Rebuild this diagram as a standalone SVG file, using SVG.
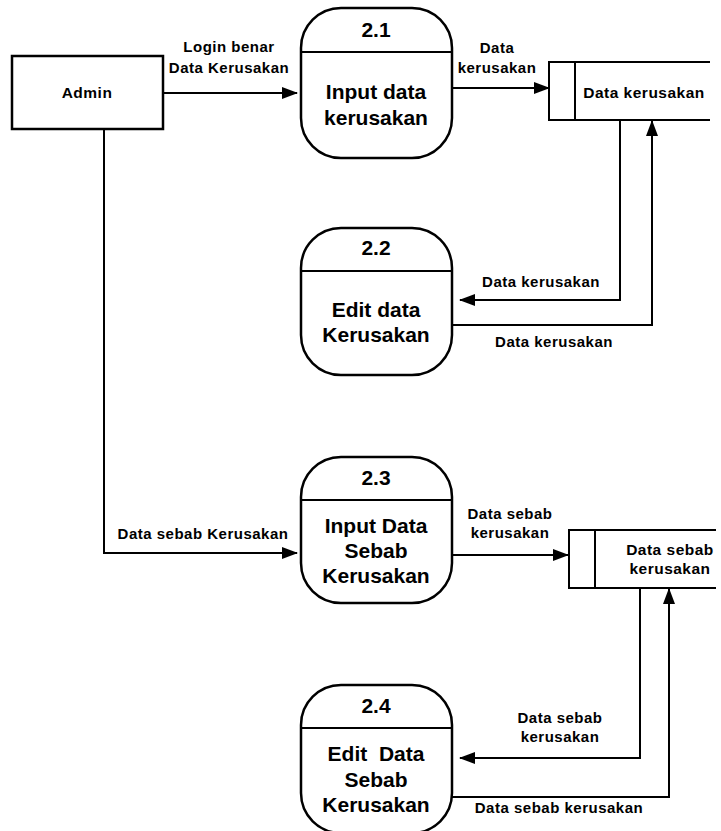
<svg xmlns="http://www.w3.org/2000/svg" width="721" height="831" viewBox="0 0 721 831">
<style>
.bg{fill:#ffffff}
.shape{fill:none;stroke:#000;stroke-width:2.5}
.line{fill:none;stroke:#000;stroke-width:2}
.flow{fill:none;stroke:#000;stroke-width:2;marker-end:url(#arr)}
text{font-family:"Liberation Sans",Arial,sans-serif;font-weight:bold;fill:#000;text-anchor:middle}
.lbl{font-size:15px;letter-spacing:0.5px}
.ptxt{font-size:21px}
.pnum{font-size:21px}
.ent{font-size:15.5px;letter-spacing:0.5px}
</style>
<defs>
<marker id="arr" markerUnits="userSpaceOnUse" markerWidth="16" markerHeight="12" refX="15" refY="6" orient="auto">
<path d="M0,0 L16,6 L0,12 Z" fill="#000"/>
</marker>
</defs>
<rect class="bg" x="0" y="0" width="721" height="831"/>

<g id="connectors">
<path class="flow" d="M163,93 H297"/>
<path class="flow" d="M452,88 H549"/>
<path class="flow" d="M620,120 V300 H460"/>
<path class="flow" d="M452,325 H652 V121"/>
<path class="flow" d="M104,129 V553 H297"/>
<path class="flow" d="M452,555 H568"/>
<path class="flow" d="M640,588 V758 H460"/>
<path class="flow" d="M452,797 H669 V589"/>
<text class="lbl" x="229" y="52">Login benar</text>
<text class="lbl" x="229" y="73">Data Kerusakan</text>
<text class="lbl" x="497" y="53">Data</text>
<text class="lbl" x="497" y="73">kerusakan</text>
<text class="lbl" x="541" y="287">Data kerusakan</text>
<text class="lbl" x="554" y="347">Data kerusakan</text>
<text class="lbl" x="203" y="539">Data sebab Kerusakan</text>
<text class="lbl" x="510" y="519">Data sebab</text>
<text class="lbl" x="510" y="538">kerusakan</text>
<text class="lbl" x="560" y="723">Data sebab</text>
<text class="lbl" x="560" y="742">kerusakan</text>
<text class="lbl" x="559" y="813">Data sebab kerusakan</text>
</g>

<g id="admin">
<rect class="shape" x="12" y="56" width="151" height="73" stroke-width="2"/>
<text class="ent" x="87" y="98">Admin</text>
</g>

<g id="p21">
<rect class="shape" x="301" y="8" width="151" height="150" rx="40" ry="40"/>
<line class="line" x1="301" y1="52" x2="452" y2="52"/>
<text class="pnum" x="376" y="37">2.1</text>
<text class="ptxt" x="376" y="99">Input data</text>
<text class="ptxt" x="376" y="125">kerusakan</text>
</g>

<g id="p22">
<rect class="shape" x="301" y="228" width="151" height="147" rx="40" ry="40"/>
<line class="line" x1="301" y1="271" x2="452" y2="271"/>
<text class="pnum" x="376" y="255">2.2</text>
<text class="ptxt" x="376" y="317">Edit data</text>
<text class="ptxt" x="376" y="342">Kerusakan</text>
</g>

<g id="p23">
<rect class="shape" x="301" y="457" width="151" height="146" rx="40" ry="40"/>
<line class="line" x1="301" y1="500" x2="452" y2="500"/>
<text class="pnum" x="376" y="485">2.3</text>
<text class="ptxt" x="376" y="533">Input Data</text>
<text class="ptxt" x="376" y="558">Sebab</text>
<text class="ptxt" x="376" y="583">Kerusakan</text>
</g>

<g id="p24">
<rect class="shape" x="301" y="685" width="151" height="148" rx="40" ry="40"/>
<line class="line" x1="301" y1="728" x2="452" y2="728"/>
<text class="pnum" x="376" y="713">2.4</text>
<text class="ptxt" x="376" y="761" xml:space="preserve">Edit  Data</text>
<text class="ptxt" x="376" y="787">Sebab</text>
<text class="ptxt" x="376" y="812">Kerusakan</text>
</g>

<g id="ds1">
<path class="line" d="M710,62 H549 V120 H710"/>
<line class="line" x1="575" y1="62" x2="575" y2="120"/>
<text class="ent" x="644" y="98">Data kerusakan</text>
</g>

<g id="ds2">
<path class="line" d="M716,530 H569 V588 H716"/>
<line class="line" x1="595" y1="530" x2="595" y2="588"/>
<text class="ent" x="670" y="555">Data sebab</text>
<text class="ent" x="670" y="574">kerusakan</text>
</g>
</svg>
